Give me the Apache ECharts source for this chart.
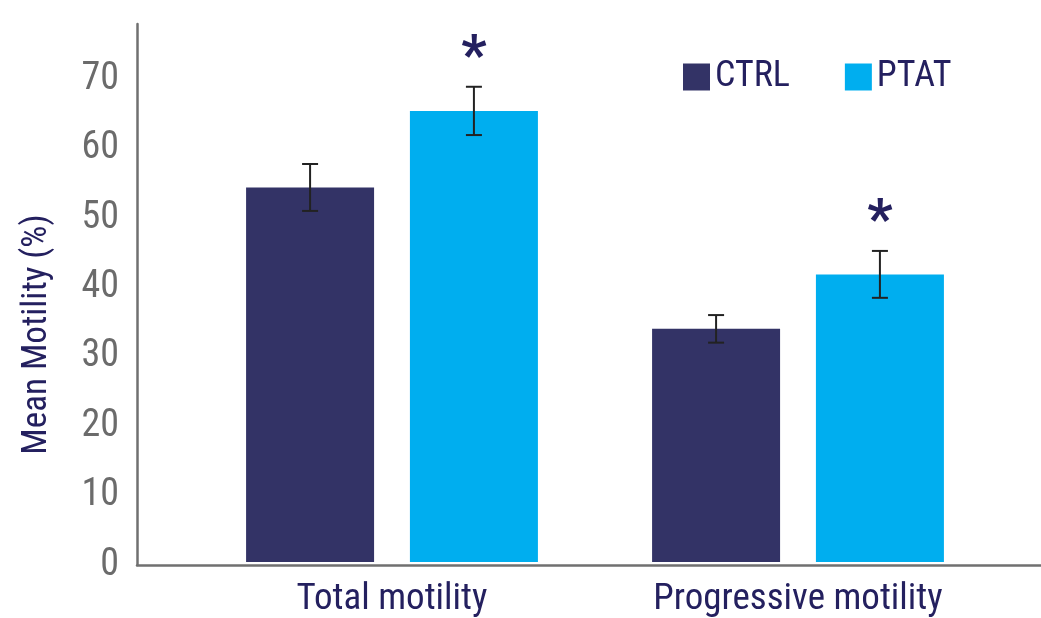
<!DOCTYPE html>
<html>
<head>
<meta charset="utf-8">
<title>Mean Motility</title>
<script src="https://cdn.jsdelivr.net/npm/echarts@6/dist/echarts.min.js"></script>
<style>
  html, body { margin: 0; padding: 0; background: #ffffff; }
  #chart { width: 1041px; height: 618px; }
</style>
</head>
<body>
<div id="chart"></div>
<script>
// Motility groups and per-group means with their error (±)
var categories = ['Total motility', 'Progressive motility'];
var seriesNames = ['CTRL', 'PTAT'];
var ctrlMean = [54.3, 33.8];
var ctrlErr = [3.4, 2.0];
var ptatMean = [65.4, 41.7];
var ptatErr = [3.5, 3.4];
var ptatSig = ['*', '*'];
var yTicks = [0, 10, 20, 30, 40, 50, 60, 70];

var NAVY = '#333366';
var CYAN = '#00aeef';
var TEXT_NAVY = '#24205f';
var AXIS_GREY = '#707070';
var FONT = "'Roboto Condensed', 'Liberation Sans Narrow', 'Arial Narrow', 'DejaVu Sans Condensed', Roboto, sans-serif";

var BAR_WIDTH = 128;
var BAR_GAP = 0.28;
var Y_MAX = 78;

// error bar centred on its bar: offset from the category centre by half a bar plus half the gap
function errorBarSeries(means, errs, side, sig) {
  var data = means.map(function (m, i) { return [i, m - errs[i], m + errs[i], sig ? sig[i] : '']; });
  return {
    type: 'custom',
    xAxisIndex: 1,
    yAxisIndex: 1,
    z: 5,
    silent: true,
    data: data,
    renderItem: function (params, api) {
      var idx = api.value(0);
      var lowPt = api.coord([idx, api.value(1)]);
      var highPt = api.coord([idx, api.value(2)]);
      var shift = side * (BAR_WIDTH + BAR_WIDTH * BAR_GAP) / 2;
      var x = lowPt[0] + shift;
      var cap = 8;
      var style = { stroke: '#222222', lineWidth: 2 };
      var children = [
        { type: 'line', shape: { x1: x, y1: highPt[1], x2: x, y2: lowPt[1] }, style: style },
        { type: 'line', shape: { x1: x - cap, y1: highPt[1], x2: x + cap, y2: highPt[1] }, style: style },
        { type: 'line', shape: { x1: x - cap, y1: lowPt[1], x2: x + cap, y2: lowPt[1] }, style: style }
      ];
      var mark = data[params.dataIndex][3];
      if (mark) {
        children.push({
          type: 'text',
          style: {
            text: mark, x: x, y: highPt[1] - 27,
            fill: TEXT_NAVY, font: 'bold 56px ' + FONT,
            align: 'center', verticalAlign: 'middle'
          }
        });
      }
      return { type: 'group', children: children };
    }
  };
}

var chart = echarts.init(document.getElementById('chart'), null, { renderer: 'canvas' });

chart.setOption({
  animation: false,
  backgroundColor: '#ffffff',
  textStyle: { fontFamily: FONT },
  legend: {
    data: seriesNames,
    left: 683,
    top: 59,
    padding: 0,
    itemWidth: 27,
    itemHeight: 27,
    itemGap: 55,
    icon: 'rect',
    textStyle: { color: TEXT_NAVY, fontSize: 36, fontFamily: FONT }
  },
  grid: [
    { left: 137, right: 0, top: 24, bottom: 53 },
    { left: 189, right: 40, top: 24, bottom: 53 }
  ],
  xAxis: [
    {
      gridIndex: 0, type: 'category', data: categories,
      axisLine: { show: true, lineStyle: { color: AXIS_GREY, width: 2.5 } },
      axisTick: { show: false }, axisLabel: { show: false }, splitLine: { show: false }
    },
    {
      gridIndex: 1, type: 'category', data: categories,
      axisLine: { show: false }, axisTick: { show: false },
      axisLabel: { color: TEXT_NAVY, fontSize: 37, fontFamily: FONT, margin: 19 }
    }
  ],
  yAxis: [
    {
      gridIndex: 0, type: 'value', min: 0, max: Y_MAX, interval: 10,
      name: 'Mean Motility (%)', nameLocation: 'middle', nameGap: 82,
      nameTextStyle: { color: TEXT_NAVY, fontSize: 35, fontFamily: FONT, padding: [0, 80, 0, 0] },
      axisLine: { show: true, lineStyle: { color: AXIS_GREY, width: 2.5 } },
      axisTick: { show: false },
      splitLine: { show: false },
      axisLabel: {
        color: '#6b6b6b', fontSize: 38, fontFamily: FONT, margin: 18,
        padding: [8, 0, 0, 0],
        showMaxLabel: false,
        formatter: function (v) { return yTicks.indexOf(v) >= 0 ? String(v) : ''; }
      }
    },
    {
      gridIndex: 1, type: 'value', min: 0, max: Y_MAX, interval: 10, show: false
    }
  ],
  series: [
    {
      name: seriesNames[0], type: 'bar', xAxisIndex: 1, yAxisIndex: 1,
      data: ctrlMean, barWidth: BAR_WIDTH, barGap: (BAR_GAP * 100) + '%',
      itemStyle: { color: NAVY }
    },
    {
      name: seriesNames[1], type: 'bar', xAxisIndex: 1, yAxisIndex: 1,
      data: ptatMean, barWidth: BAR_WIDTH, barGap: (BAR_GAP * 100) + '%',
      itemStyle: { color: CYAN }
    },
    errorBarSeries(ctrlMean, ctrlErr, -1, null),
    errorBarSeries(ptatMean, ptatErr, 1, ptatSig)
  ]
});
</script>
</body>
</html>
